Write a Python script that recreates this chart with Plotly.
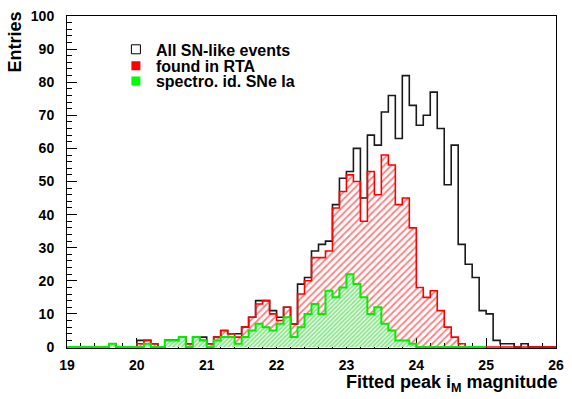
import numpy as np
import plotly.graph_objects as go

# Histogram binning: 70 bins of width 0.1 between 19 and 26
x_min, x_max, n_bins = 19.0, 26.0, 70

all_sn = [0, 0, 0, 0, 0, 0, 1, 0, 0, 0,
          2, 2, 1, 0, 2, 2, 3, 1, 3, 3,
          1, 3, 5, 4, 4, 6, 9, 14, 14, 11,
          9, 12, 7, 19, 21, 29, 31, 32, 43, 51,
          53, 60, 45, 64, 61, 71, 76, 63, 82, 73,
          67, 70, 77, 66, 49, 61, 31, 25, 21, 11,
          10, 2, 1, 1, 0, 1, 0, 0, 0, 0]

found_rta = [0, 0, 0, 0, 0, 0, 1, 0, 0, 0,
             1, 2, 1, 0, 2, 2, 3, 1, 3, 2,
             1, 3, 5, 4, 3, 6, 9, 13, 14, 10,
             8, 12, 7, 16, 20, 27, 27, 29, 42, 47,
             52, 50, 38, 53, 46, 58, 55, 43, 45, 36,
             18, 15, 17, 11, 6, 3, 1, 0, 0, 0,
             0, 0, 0, 0, 0, 0, 0, 0, 0, 0]

spectro_ia = [0, 0, 0, 0, 0, 0, 1, 0, 0, 0,
              0, 1, 0, 0, 2, 2, 3, 0, 3, 2,
              0, 2, 3, 3, 1, 3, 5, 7, 6, 5,
              7, 9, 3, 6, 10, 13, 10, 17, 15, 18,
              22, 19, 15, 10, 12, 7, 5, 2, 2, 1,
              0, 0, 0, 0, 0, 0, 0, 0, 0, 0]

series_names = ["All SN-like events", "found in RTA", "spectro. id. SNe Ia"]

edges = np.linspace(x_min, x_max, n_bins + 1)


def step_xy(vals):
    v = list(vals)
    return edges, v + [v[-1]]


FONT = "Liberation Sans, Arial, Helvetica, sans-serif"

fig = go.Figure()

# All SN-like events: hollow black histogram
xs, ys = step_xy(all_sn)
fig.add_trace(go.Scatter(x=xs, y=ys, mode="lines", line=dict(shape="hv", color="#1a1a1a", width=1.6),
                         showlegend=False, hoverinfo="skip"))

# found in RTA: red hatched
xs, ys = step_xy(found_rta)
fig.add_trace(go.Scatter(x=xs, y=ys, mode="lines", line=dict(shape="hv", color="#ff0000", width=1.6),
                         fill="tozeroy", fillcolor="rgba(255,255,255,0)",
                         fillpattern=dict(shape="/", fgcolor="#ff0000", bgcolor="rgba(255,255,255,0)",
                                          size=5, solidity=0.35),
                         showlegend=False, hoverinfo="skip"))

# spectro. id. SNe Ia: green hatched
xs, ys = step_xy(spectro_ia)
fig.add_trace(go.Scatter(x=xs, y=ys, mode="lines", line=dict(shape="hv", color="#00ee00", width=2.0),
                         fill="tozeroy", fillcolor="rgba(255,255,255,0)",
                         fillpattern=dict(shape="/", fgcolor="#22cc22", bgcolor="#e8fbe8",
                                          size=3, solidity=0.5),
                         showlegend=False, hoverinfo="skip"))

# Legend entries (one legend per entry for compact spacing)
legend_styles = [
    dict(symbol="square-open", size=9, color="#000000", line=dict(color="#000000", width=1)),
    dict(symbol="square", size=9, color="#ff0000", line=dict(width=0)),
    dict(symbol="square", size=9, color="#00ff00", line=dict(width=0)),
]
legend_ids = ["legend", "legend2", "legend3"]
for name, st, lid in zip(series_names, legend_styles, legend_ids):
    fig.add_trace(go.Scatter(x=[None], y=[None], mode="markers", marker=st, name=name,
                             legend=lid, showlegend=True))

plot_h = 340.0
leg_rows_px = [42.5, 59.3, 75.0]
leg_common = dict(xanchor="left", yanchor="middle", bgcolor="rgba(0,0,0,0)", borderwidth=0,
                  font=dict(family=FONT, size=16, color="#000000", weight="bold"),
                  itemwidth=30)
layout_legends = {}
for lid, py in zip(legend_ids, leg_rows_px):
    layout_legends[lid] = dict(x=0.10, y=(348.3 - py) / plot_h, **leg_common)

fig.update_layout(
    width=572, height=399,
    margin=dict(l=67, r=9, t=8, b=51),
    paper_bgcolor="white", plot_bgcolor="white",
    font=dict(family=FONT, color="#000000"),
    **layout_legends,
)

fig.update_xaxes(
    range=[x_min, x_max], dtick=1, tick0=19,
    showgrid=False, zeroline=False,
    showline=True, linecolor="#000000", linewidth=1, mirror=True,
    ticks="inside", ticklen=10, tickcolor="#000000", tickwidth=1,
    minor=dict(dtick=0.2, ticks="inside", ticklen=5, tickcolor="#000000", showgrid=False),
    tickfont=dict(family=FONT, size=14, weight="bold", color="#000000"),
    ticklabelstandoff=4,
    layer="below traces",
)
fig.update_yaxes(
    range=[-0.3, 100], dtick=10, tick0=0,
    showgrid=False, zeroline=False,
    showline=True, linecolor="#000000", linewidth=1, mirror=True,
    ticks="inside", ticklen=10, tickcolor="#000000", tickwidth=1,
    minor=dict(dtick=2, ticks="inside", ticklen=5, tickcolor="#000000", showgrid=False),
    tickfont=dict(family=FONT, size=14, weight="bold", color="#000000"),
    ticklabelstandoff=9,
    layer="below traces",
)

fig.add_annotation(text="Fitted peak i<sub>M</sub> magnitude", xref="paper", yref="paper",
                   x=1, y=0, xanchor="right", yanchor="top", xshift=4, yshift=-22,
                   showarrow=False, font=dict(family=FONT, size=18, weight="bold", color="#000000"))
fig.add_annotation(text="Entries", xref="paper", yref="paper", textangle=-90,
                   x=0, y=1, xanchor="center", yanchor="top", xshift=-53, yshift=6,
                   showarrow=False, font=dict(family=FONT, size=18, weight="bold", color="#000000"))

fig.write_html("out.html")
